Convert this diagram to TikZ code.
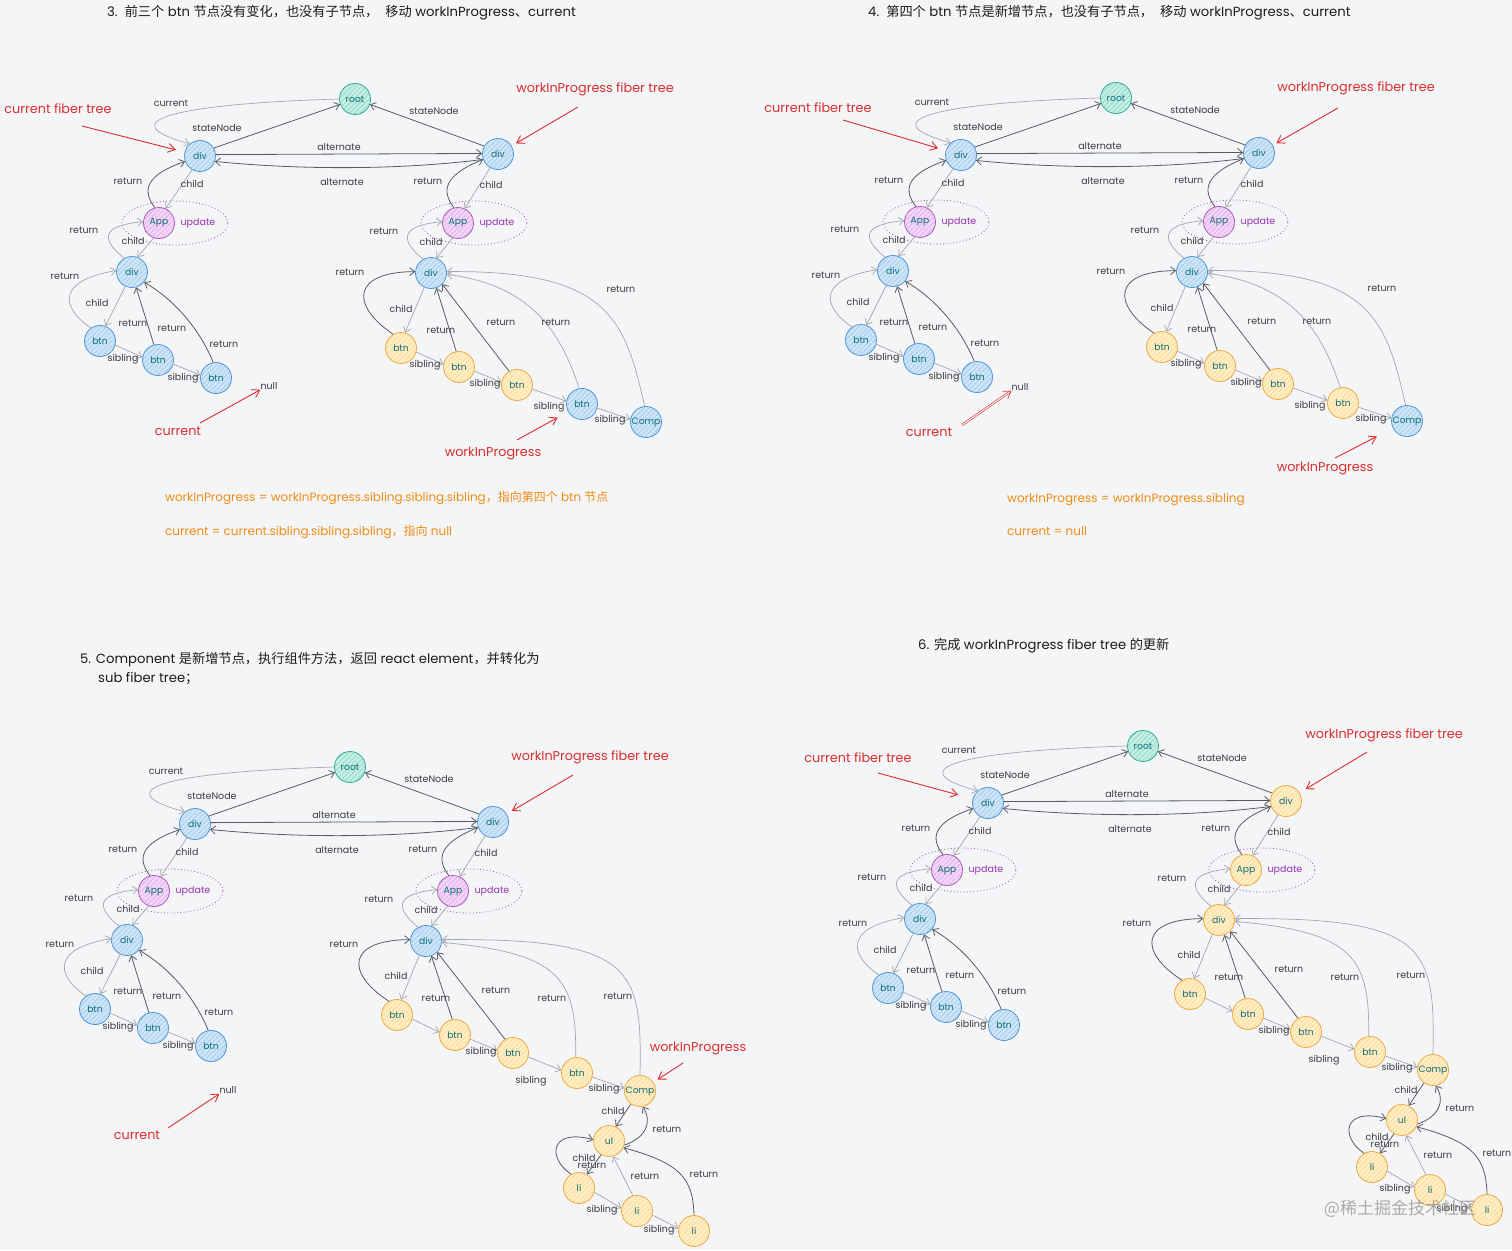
\documentclass[tikz,border=0pt]{standalone}
\usepackage{fontspec}
\setmainfont{Poppins}
\newfontfamily\cjk{Noto Sans CJK SC}
\usetikzlibrary{arrows.meta,patterns,patterns.meta}
\definecolor{bgc}{RGB}{244,245,247}
\definecolor{bfill}{RGB}{206,229,247}
\definecolor{bhatch}{RGB}{150,196,236}
\definecolor{bdraw}{RGB}{74,144,214}
\definecolor{tfill}{RGB}{198,238,228}
\definecolor{thatch}{RGB}{120,212,190}
\definecolor{tdraw}{RGB}{46,166,146}
\definecolor{pfill}{RGB}{243,214,247}
\definecolor{phatch}{RGB}{218,165,232}
\definecolor{pdraw}{RGB}{168,84,190}
\definecolor{ofill}{RGB}{255,237,196}
\definecolor{ohatch}{RGB}{250,214,140}
\definecolor{odraw}{RGB}{240,164,60}
\definecolor{ntext}{RGB}{16,112,122}
\definecolor{darkln}{RGB}{88,92,98}
\definecolor{lightln}{RGB}{162,167,174}
\definecolor{labtext}{RGB}{58,60,64}
\definecolor{redc}{RGB}{218,46,46}
\definecolor{orangec}{RGB}{240,140,20}
\definecolor{purtext}{RGB}{150,50,180}
\definecolor{titlec}{RGB}{28,28,30}
\newcounter{labc}
\newcommand\elab[2]{\stepcounter{labc}\node[elabel] (lab\arabic{labc}) at (#1) {#2};}
\tikzset{
  fnode/.style={circle, minimum size=31pt, inner sep=0pt, line width=0.8pt, font=\fontsize{9.2}{10}\selectfont, text=ntext},
  bnode/.style={fnode, draw=bdraw, fill=bfill, postaction={pattern={Lines[angle=45,distance=3.5pt,line width=0.5pt]}, pattern color=bhatch}},
  tnode/.style={fnode, draw=tdraw, fill=tfill, postaction={pattern={Lines[angle=45,distance=3.5pt,line width=0.5pt]}, pattern color=thatch}},
  pnode/.style={fnode, draw=pdraw, fill=pfill, postaction={pattern={Lines[angle=45,distance=3.5pt,line width=0.5pt]}, pattern color=phatch}},
  onode/.style={fnode, draw=odraw, fill=ofill, postaction={pattern={Lines[angle=45,distance=3.5pt,line width=0.5pt]}, pattern color=ohatch}},
  elabel/.style={font=\fontsize{9.5}{10}\selectfont, text=labtext, inner sep=0pt},
  updtxt/.style={font=\fontsize{9.5}{11}\selectfont, text=purtext, inner sep=0pt},
  dotring/.style={draw=pdraw, line width=0.8pt, dash pattern=on 0.9pt off 2.4pt},
  darkarr/.style={draw=darkln, line width=0.8pt, -{Straight Barb[length=5pt,width=8pt]}},
  lightarr/.style={draw=lightln, line width=0.7pt, -{Straight Barb[length=5pt,width=8pt]}},
  redarr/.style={draw=redc, line width=0.9pt, -{Straight Barb[length=7pt,width=9pt]}},
  redarrd/.style={draw=redc, line width=0.6pt, double=bgc, double distance=1.1pt, -{Straight Barb[length=7pt,width=9pt]}},
  redlbl/.style={font=\fontsize{12.8}{14}\selectfont, text=redc, inner sep=1pt},
  orangetxt/.style={font=\fontsize{12}{14}\selectfont, text=orangec, inner sep=0pt, anchor=west},
  titletxt/.style={font=\fontsize{13.2}{15}\selectfont, text=titlec, inner sep=0pt, anchor=west},
  wmark/.style={font=\cjk\fontsize{17}{19}\selectfont, text=black!45, opacity=0.7, inner sep=0pt}
}
% common part of each panel, in panel-1 coordinates
\newcommand\fiberbase[4]{%
\node[tnode] (#1root) at (355,99) {root};
\node[bnode] (#1cd) at (200,156) {div};
\node[#2] (#1wd) at (498,154) {div};
\node[pnode] (#1ca) at (159,223) {App};
\node[#3] (#1wa) at (458,223) {App};
\node[bnode] (#1ci) at (132,272) {div};
\node[#4] (#1wi) at (431,273) {div};
\node[bnode] (#1cb1) at (100,341) {btn};
\node[bnode] (#1cb2) at (158,360) {btn};
\node[bnode] (#1cb3) at (216,378) {btn};
\node[updtxt] (#1cu) at (198,223) {update};
\node[updtxt] (#1wu) at (497,223) {update};
\draw[dotring] (175,223) ellipse [x radius=53pt, y radius=22pt];
\draw[dotring] (474,223) ellipse [x radius=53pt, y radius=22pt];
\draw[lightarr] (#1root.west) .. controls (170,104) and (110,122) .. (#1cd.130);
\draw[darkarr] (#1cd.30) -- (#1root.200);
\draw[darkarr] (#1wd.150) -- (#1root.-20);
\draw[darkarr] (#1cd.5) -- (#1wd.178);
\draw[darkarr] (#1wd.200) .. controls (400,170) and (300,170) .. (#1cd.-20);
\draw[darkarr] (#1ca.105) .. controls (143,192) and (143,176) .. (#1cd.200);
\draw[lightarr] (#1cd.240) -- (#1ca.65);
\draw[lightarr] (#1ci.120) .. controls (102,240) and (99,226) .. (#1ca.175);
\draw[lightarr] (#1ca.250) -- (#1ci.70);
\draw[lightarr] (#1cb1.125) .. controls (58,305) and (60,280) .. (#1ci.175);
\draw[lightarr] (#1ci.245) -- (#1cb1.70);
\draw[lightarr] (#1cb1.-15) -- (#1cb2.170);
\draw[lightarr] (#1cb2.-15) -- (#1cb3.170);
\draw[darkarr] (#1cb2.105) -- (#1ci.-75);
\draw[darkarr] (#1cb3.100) .. controls (200,330) and (175,300) .. (#1ci.-40);
\draw[darkarr] (#1wa.105) .. controls (442,192) and (442,176) .. (#1wd.200);
\draw[lightarr] (#1wd.240) -- (#1wa.65);
\draw[lightarr] (#1wi.120) .. controls (401,241) and (398,226) .. (#1wa.175);
\draw[lightarr] (#1wa.250) -- (#1wi.70);
\elab{171,103}{current}
\elab{217,128}{stateNode}
\elab{339,147}{alternate}
\elab{342,182}{alternate}
\elab{434,111}{stateNode}
\elab{128,181}{return}
\elab{192,184}{child}
\elab{428,181}{return}
\elab{491,185}{child}
\elab{84,230}{return}
\elab{133,241}{child}
\elab{384,231}{return}
\elab{431,242}{child}
\elab{65,276}{return}
\elab{97,303}{child}
\elab{133,323}{return}
\elab{172,328}{return}
\elab{224,344}{return}
\elab{123,359}{sibling}
\elab{183,378}{sibling}
}
% right subtree, first row
\newcommand\rightA[2]{%
\node[onode] (#1wb1) at (401,348) {btn};
\node[onode] (#1wb2) at (459,367) {btn};
\node[onode] (#1wb3) at (517,385) {btn};
\node[#2] (#1wb4) at (582,404) {btn};
\node[bnode] (#1wc) at (646,422) {Comp};
\draw[lightarr] (#1wi.245) -- (#1wb1.75);
\draw[darkarr] (#1wb1.120) .. controls (350,305) and (352,272) .. (#1wi.175);
\draw[darkarr] (#1wb2.100) -- (#1wi.-70);
\draw[darkarr] (#1wb3.120) -- (#1wi.-45);
\draw[lightarr] (#1wb4.100) .. controls (560,330) and (530,285) .. (#1wi.-5);
\draw[lightarr] (#1wc.95) .. controls (625,320) and (610,270) .. (#1wi.5);
\draw[lightarr] (#1wb1.-15) -- (#1wb2.170);
\draw[lightarr] (#1wb2.-15) -- (#1wb3.170);
\draw[lightarr] (#1wb3.-15) -- (#1wb4.170);
\draw[lightarr] (#1wb4.-15) -- (#1wc.170);
\elab{350,272}{return}
\elab{401,309}{child}
\elab{441,330}{return}
\elab{501,322}{return}
\elab{556,322}{return}
\elab{621,289}{return}
\elab{425,365}{sibling}
\elab{485,384}{sibling}
\elab{549,407}{sibling}
\elab{610,420}{sibling}
}
% right subtree with ul / li
\newcommand\rightB[1]{%
\node[onode] (#1wb1) at (402,347) {btn};
\node[onode] (#1wb2) at (460,367) {btn};
\node[onode] (#1wb3) at (518,385) {btn};
\node[onode] (#1wb4) at (582,405) {btn};
\node[onode] (#1wc) at (645,423) {Comp};
\node[onode] (#1ul) at (614,473) {ul};
\node[onode] (#1l1) at (584,520) {li};
\node[onode] (#1l2) at (642,543) {li};
\node[onode] (#1l3) at (699,563) {li};
\draw[lightarr] (#1wi.245) -- (#1wb1.75);
\draw[darkarr] (#1wb1.120) .. controls (350,305) and (352,272) .. (#1wi.175);
\draw[darkarr] (#1wb2.100) -- (#1wi.-70);
\draw[darkarr] (#1wb3.120) -- (#1wi.-45);
\draw[lightarr] (#1wb4.95) .. controls (582,310) and (565,285) .. (#1wi.-5);
\draw[lightarr] (#1wc.90) .. controls (647,300) and (640,270) .. (#1wi.5);
\draw[lightarr] (#1wb1.-15) -- (#1wb2.170);
\draw[lightarr] (#1wb2.-15) -- (#1wb3.170);
\draw[lightarr] (#1wb3.-15) -- (#1wb4.170);
\draw[lightarr] (#1wb4.-15) -- (#1wc.170);
\draw[darkarr] (#1wc.235) -- (#1ul.65);
\draw[darkarr] (#1ul.-15) .. controls (650,470) and (658,455) .. (#1wc.-80);
\draw[darkarr] (#1ul.240) -- (#1l1.60);
\draw[darkarr] (#1l1.120) .. controls (552,490) and (555,460) .. (#1ul.175);
\draw[lightarr] (#1l2.105) -- (#1ul.-75);
\draw[darkarr] (#1l3.90) .. controls (698,510) and (685,495) .. (#1ul.-25);
\draw[lightarr] (#1l1.-15) -- (#1l2.170);
\draw[lightarr] (#1l2.-15) -- (#1l3.170);
\elab{349,276}{return}
\elab{401,308}{child}
\elab{441,330}{return}
\elab{501,322}{return}
\elab{557,330}{return}
\elab{623,328}{return}
\elab{486,384}{sibling}
\elab{536,413}{sibling}
\elab{609,421}{sibling}
\elab{618,443}{child}
\elab{672,461}{return}
\elab{589,490}{child}
\elab{597,497}{return}
\elab{650,508}{return}
\elab{709,506}{return}
\elab{607,542}{sibling}
\elab{664,562}{sibling}
}
\begin{document}
\begin{tikzpicture}[x=1pt,y=-1pt]
\fill[bgc] (0,0) rectangle (1512,1250);
\useasboundingbox (0,0) rectangle (1512,1250);

% ---------- step 3 (top left) ----------
\begin{scope}
\fiberbase{pa}{bnode}{pnode}{bnode}
\rightA{pa}{bnode}
\end{scope}
\node[titletxt] (pat) at (107,13) {3.\ \ {\cjk 前三个} btn {\cjk 节点没有变化，也没有子节点，}\ \ {\cjk 移动} workInProgress{\cjk 、}current};
\node[redlbl] (pacft) at (58,109) {current fiber tree};
\coordinate (pacfa) at (82,126);
\draw[redarr, shorten >=9pt] (pacfa) -- (pacd);
\node[redlbl] (pawft) at (595,89) {workInProgress fiber tree};
\coordinate (pawfa) at (578,107);
\draw[redarr, shorten >=5pt] (pawfa) -- (pawd);
\node[elabel] (panull) at (269,386) {null};
\node[redlbl] (pacur) at (178,431) {current};
\coordinate (pacura) at (200,423);
\draw[redarr] (pacura) -- (panull.south west);
\node[redlbl] (pawip) at (493,453) {workInProgress};
\coordinate (pawipa) at (517,440);
\draw[redarr, shorten >=12pt] (pawipa) -- (pawb4);
\node[orangetxt] (pao1) at (165,498) {workInProgress = workInProgress.sibling.sibling.sibling{\cjk ，指向第四个} btn {\cjk 节点}};
\node[orangetxt] (pao2) at (165,532) {current = current.sibling.sibling.sibling{\cjk ，指向} null};

% ---------- step 4 (top right) ----------
\begin{scope}[shift={(761,-1)}]
\fiberbase{pb}{bnode}{pnode}{bnode}
\rightA{pb}{onode}
\end{scope}
\node[titletxt] (pbt) at (868,13) {4.\ \ {\cjk 第四个} btn {\cjk 节点是新增节点，也没有子节点，}\ \ {\cjk 移动} workInProgress{\cjk 、}current};
\node[redlbl] (pbcft) at (818,108) {current fiber tree};
\coordinate (pbcfa) at (843,120);
\draw[redarr, shorten >=8pt] (pbcfa) -- (pbcd);
\node[redlbl] (pbwft) at (1356,88) {workInProgress fiber tree};
\coordinate (pbwfa) at (1338,108);
\draw[redarr, shorten >=4pt] (pbwfa) -- (pbwd);
\node[elabel] (pbnull) at (1020,387) {null};
\node[redlbl] (pbcur) at (929,432) {current};
\coordinate (pbcura) at (962,425);
\draw[redarrd] (pbcura) -- (pbnull.south west);
\node[redlbl] (pbwip) at (1325,468) {workInProgress};
\coordinate (pbwipa) at (1335,458);
\draw[redarr, shorten >=18pt] (pbwipa) -- (pbwc);
\node[orangetxt] (pbo1) at (1007,500) {workInProgress = workInProgress.sibling};
\node[orangetxt] (pbo2) at (1007,531) {current = null};

% ---------- step 5 (bottom left) ----------
\begin{scope}[shift={(-5,668)}]
\fiberbase{pc}{bnode}{pnode}{bnode}
\rightB{pc}
\end{scope}
\node[titletxt] (pct1) at (80,660) {5. Component {\cjk 是新增节点，执行组件方法，返回} react element{\cjk ，并转化为}};
\node[titletxt] (pct2) at (98,679) {sub fiber tree{\cjk ；}};
\node[redlbl] (pcwft) at (590,757) {workInProgress fiber tree};
\coordinate (pcwfa) at (573,775);
\draw[redarr, shorten >=6pt] (pcwfa) -- (pcwd);
\node[elabel] (pcnull) at (228,1090) {null};
\node[redlbl] (pccur) at (137,1135) {current};
\coordinate (pccura) at (168,1128);
\draw[redarr] (pccura) -- (pcnull.south west);
\node[redlbl] (pcwip) at (698,1048) {workInProgress};
\coordinate (pcwipa) at (683,1063);
\draw[redarr, shorten >=5pt] (pcwipa) -- (pcwc);

% ---------- step 6 (bottom right) ----------
\begin{scope}[shift={(788,647)}]
\fiberbase{pd}{onode}{onode}{onode}
\rightB{pd}
\end{scope}
\node[titletxt] (pdt) at (918,646) {6. {\cjk 完成} workInProgress fiber tree {\cjk 的更新}};
\node[redlbl] (pdcft) at (858,758) {current fiber tree};
\coordinate (pdcfa) at (878,773);
\draw[redarr, shorten >=15pt] (pdcfa) -- (pdcd);
\node[redlbl] (pdwft) at (1384,735) {workInProgress fiber tree};
\coordinate (pdwfa) at (1367,752);
\draw[redarr, shorten >=7pt] (pdwfa) -- (pdwd);
\node[wmark] (wm) at (1400,1209) {@稀土掘金技术社区};
\end{tikzpicture}
\end{document}
